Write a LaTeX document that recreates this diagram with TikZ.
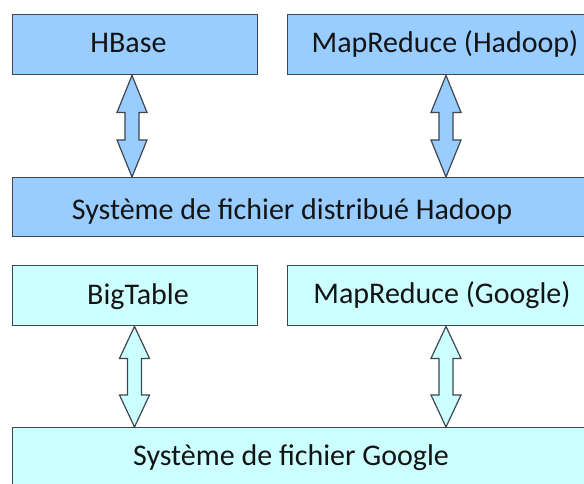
\documentclass[tikz,border=0pt]{standalone}
\usepackage{fontspec}
\setmainfont{Carlito}
\usetikzlibrary{calc}
\definecolor{hblue}{HTML}{99CCFF}
\definecolor{gcyan}{HTML}{CCFFFF}
\definecolor{edgec}{HTML}{3E4650}
\definecolor{ink}{HTML}{141414}
\tikzset{
  box/.style={draw=edgec, line width=1.4pt, rectangle, inner sep=0pt, anchor=north west},
  hbox/.style={box, fill=hblue},
  gbox/.style={box, fill=gcyan},
  lbl/.style={text=ink, font=\fontsize{30}{35}\selectfont, inner sep=0pt, anchor=base},
  fat/.style={draw=edgec, line width=1.2pt, line join=miter},
}
% #1 top tip, #2 bottom tip, #3 head length (pt), #4 fill
\newcommand\fatarrow[4]{%
  \draw[fat, fill=#4] let \p1=(#1), \p2=(#2) in
    (\x1,\y1) -- (\x1+15pt,\y1-#3pt) -- (\x1+7pt,\y1-#3pt) -- (\x1+7pt,\y2+#3pt)
    -- (\x1+15pt,\y2+#3pt) -- (\x1,\y2) -- (\x1-15pt,\y2+#3pt) -- (\x1-7pt,\y2+#3pt)
    -- (\x1-7pt,\y1-#3pt) -- (\x1-15pt,\y1-#3pt) -- cycle;}
\begin{document}
\begin{tikzpicture}[x=1pt,y=-1pt]
  \useasboundingbox (0,0) rectangle (584,483);
  \clip (0,0) rectangle (584,483);
  \fill[white] (0,0) rectangle (584,483);
  % Hadoop
  \node[hbox, minimum width=245pt, minimum height=60pt] (hbase) at (12,14) {};
  \node[hbox, minimum width=320pt, minimum height=60pt] (mrh) at (287,14) {};
  \node[hbox, minimum width=600pt, minimum height=59pt] (hdfs) at (12,177) {};
  \node[lbl] (hbaseT) at (128.5,52) {HBase};
  \node[lbl] (mrhT) at (445,52) {MapReduce (Hadoop)};
  \node[lbl] (hdfsT) at (292,219) {Système de fichier distribué Hadoop};
  % Google
  \node[gbox, minimum width=245pt, minimum height=60pt] (bigt) at (12,265) {};
  \node[gbox, minimum width=320pt, minimum height=60pt] (mrg) at (287,265) {};
  \node[gbox, minimum width=600pt, minimum height=80pt] (gfs) at (12,427) {};
  \node[lbl] (bigtT) at (138,304) {BigTable};
  \node[lbl] (mrgT) at (442,303) {MapReduce (Google)};
  \node[lbl] (gfsT) at (291,465) {Système de fichier Google};
  % arrow end points
  \coordinate (a1t) at ($(hbase.south west)+(120,0)$);
  \coordinate (a1b) at ($(hdfs.north west)+(120,0)$);
  \coordinate (a2t) at ($(mrh.south west)+(159,0)$);
  \coordinate (a2b) at ($(hdfs.north west)+(434,0)$);
  \coordinate (b1t) at ($(bigt.south west)+(122.5,0)$);
  \coordinate (b1b) at ($(gfs.north west)+(122.5,0)$);
  \coordinate (b2t) at ($(mrg.south west)+(159,0)$);
  \coordinate (b2b) at ($(gfs.north west)+(434,0)$);
  \fatarrow{a1t}{a1b}{37}{hblue}
  \fatarrow{a2t}{a2b}{37}{hblue}
  \fatarrow{b1t}{b1b}{32}{gcyan}
  \fatarrow{b2t}{b2b}{32}{gcyan}
\end{tikzpicture}
\end{document}
